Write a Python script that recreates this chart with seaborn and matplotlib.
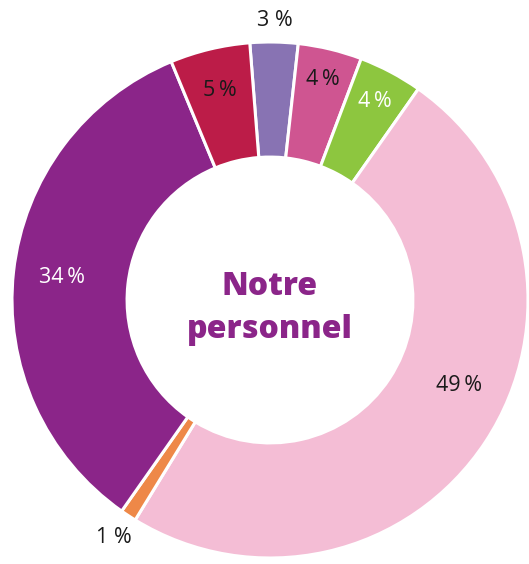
import numpy as np
import seaborn as sns
import matplotlib.pyplot as plt

sns.set_theme(style="white")
plt.rcParams['font.family'] = ['Open Sans', 'DejaVu Sans']

# Data (clockwise from the top)
labels = ["3 %", "4\u2009%", "4\u2009%", "49\u2009%", "1 %", "34\u2009%", "5\u2009%"]
values = [3, 4, 4, 49, 1, 34, 5]
colors = ["#8873B3", "#CF5591", "#8DC63F", "#F4BDD5", "#EE8848", "#8B2589", "#BC1C48"]
text_colors = ["#1a1a1a", "#1a1a1a", "white", "#1a1a1a", "#1a1a1a", "white", "#1a1a1a"]
label_radius = [1.085, 0.877, 0.872, 0.806, 1.10, 0.81, 0.835]
label_angle_shift = [0, 0, 0, -9, 0, 0, 0]

fig = plt.figure(figsize=(5.29, 5.64), dpi=100)
ax = fig.add_axes([0, 0, 1, 1])

start = 94.5
wedges, _ = ax.pie(values, colors=colors, startangle=start, counterclock=False,
                   radius=1.0, wedgeprops=dict(width=0.446, edgecolor="white", linewidth=2.2))

# Labels at the middle of each wedge
cum = 0
for lab, v, tc, r, sh in zip(labels, values, text_colors, label_radius, label_angle_shift):
    mid = cum + v / 2
    cum += v
    ang = np.deg2rad(start - mid / 100 * 360 - sh)
    ax.text(r * np.cos(ang), r * np.sin(ang), lab, ha="center", va="center",
            fontsize=15.5, color=tc)

ax.text(0, 0.05, "Notre", ha="center", va="center", fontsize=23,
        fontweight=800, color="#8B2589", family=["Open Sans", "DejaVu Sans"])
ax.text(0, -0.115, "personnel", ha="center", va="center", fontsize=23,
        fontweight=800, color="#8B2589", family=["Open Sans", "DejaVu Sans"])

ax.set_xlim(-270 / 258, 259 / 258)
ax.set_ylim(-264 / 258, 300 / 258)
ax.set_aspect("auto")
ax.axis("off")

fig.savefig("out.png", dpi=100, facecolor="white")
